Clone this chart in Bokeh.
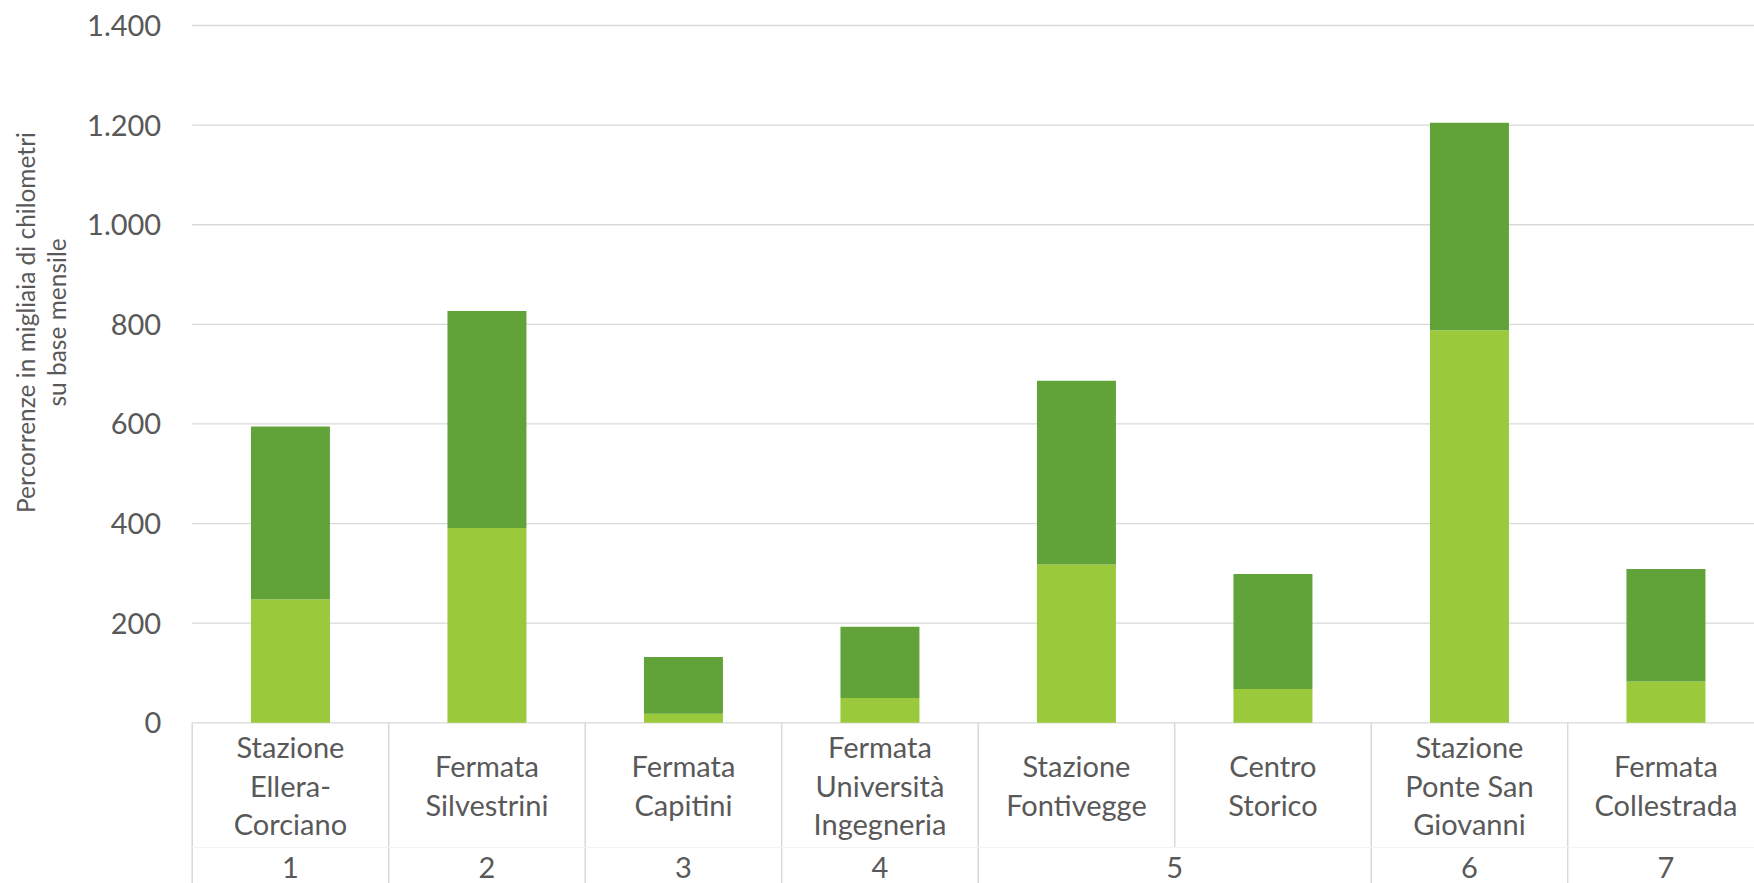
from bokeh.plotting import figure
from bokeh.models import ColumnDataSource, FixedTicker, LinearAxis, Range1d
from bokeh.core.properties import value
from bokeh.embed import file_html
from bokeh.resources import INLINE
import math

# ---- data ----
categories = [
    "Stazione\nEllera-\nCorciano",
    "Fermata\nSilvestrini",
    "Fermata\nCapitini",
    "Fermata\nUniversità\nIngegneria",
    "Stazione\nFontivegge",
    "Centro\nStorico",
    "Stazione\nPonte San\nGiovanni",
    "Fermata\nCollestrada",
]
groups = ["1", "2", "3", "4", "5", "5", "6", "7"]
serie_chiara = [248, 391, 18, 50, 318, 68, 788, 83]
serie_scura = [347, 436, 114, 143, 369, 231, 417, 226]
y_ticks = [0, 200, 400, 600, 800, 1000, 1200, 1400]
y_title = ["Percorrenze in migliaia di chilometri", "su base mensile"]

# ---- style ----
LIGHT = "#9ACA3C"
DARK = "#62A339"
TXT = "#595959"
GRID = "#D9D9D9"
FONT = "Lato"

W, H = 1754, 883
px_per_cat = 196.5
axis_px = 191.7          # screen x of the value axis
x0 = -0.5 - axis_px / px_per_cat
x1 = x0 + W / px_per_cat
px_per_unit = 0.49807
zero_px = 722.3
y1 = zero_px / px_per_unit
y0 = -(H - zero_px) / px_per_unit


def sy(py):
    """screen y (px from top) -> data y"""
    return (zero_px - py) / px_per_unit


def sx(px):
    """screen x (px from left) -> data x"""
    return x0 + px / px_per_cat


xs = list(range(len(categories)))
src = ColumnDataSource(dict(x=xs, chiara=serie_chiara, scura=serie_scura, cat=categories))

p = figure(width=W, height=H, output_backend="svg", toolbar_location=None,
           x_range=Range1d(x0, x1), y_range=Range1d(y0, y1),
           x_axis_location=None, y_axis_location=None,
           min_border_left=0, min_border_right=0,
           min_border_top=0, min_border_bottom=0)
p.outline_line_color = None
p.background_fill_color = "white"
p.border_fill_color = "white"
p.grid.visible = False

# horizontal gridlines (from the value axis to the right edge)
p.segment(x0=[-0.5] * len(y_ticks), y0=y_ticks, x1=[x1] * len(y_ticks), y1=y_ticks,
          line_color=GRID, line_width=1.3)

# value axis placed at the left edge of the category area
ax = LinearAxis(ticker=FixedTicker(ticks=y_ticks), fixed_location=-0.5)
ax.axis_line_color = None
ax.major_tick_line_color = None
ax.minor_tick_line_color = None
ax.major_tick_out = 0
ax.major_tick_in = 0
ax.major_label_standoff = 31
ax.major_label_text_font = FONT
ax.major_label_text_font_size = "29px"
ax.major_label_text_color = TXT
ax.major_label_overrides = {t: f"{t:,}".replace(",", ".") for t in y_ticks}
p.add_layout(ax, "left")

p.vbar_stack(["chiara", "scura"], x="x", width=0.402, source=src,
             color=[LIGHT, DARK], line_color=None)

# category dividers (full between different groups, short inside a group)
tier_y = sy(847)
xs_div, y_bot = [], []
for i in range(len(categories) + 1):
    xs_div.append(i - 0.5)
    if 0 < i < len(categories) and groups[i] == groups[i - 1]:
        y_bot.append(tier_y)
    else:
        y_bot.append(y0)
p.segment(x0=xs_div, y0=[0] * len(xs_div), x1=xs_div, y1=y_bot,
          line_color=GRID, line_width=1.5)
p.segment(x0=[-0.5], y0=[tier_y], x1=[x1], y1=[tier_y], line_color="#F3F3F3", line_width=1)

# category labels
p.text(x="x", y=sy(784.5), text="cat", source=src,
       text_align="center", text_baseline="middle", text_font=value(FONT),
       text_font_size="29px", text_color=TXT, text_line_height=1.10)

# group labels
gnames, gx = [], []
for g in dict.fromkeys(groups):
    idx = [i for i, gg in enumerate(groups) if gg == g]
    gnames.append(g)
    gx.append(sum(idx) / len(idx))
p.text(x=gx, y=[sy(867)] * len(gx), text=gnames,
       text_align="center", text_baseline="middle", text_font=value(FONT),
       text_font_size="29px", text_color=TXT)

# y axis title (two lines, rotated)
p.text(x=[sx(25), sx(56)], y=[sy(322)] * 2, text=y_title, angle=math.pi / 2,
       text_align="center", text_baseline="middle", text_font=value(FONT),
       text_font_size="24.5px", text_color=TXT)

open("out.html", "w").write(file_html(p, INLINE))
